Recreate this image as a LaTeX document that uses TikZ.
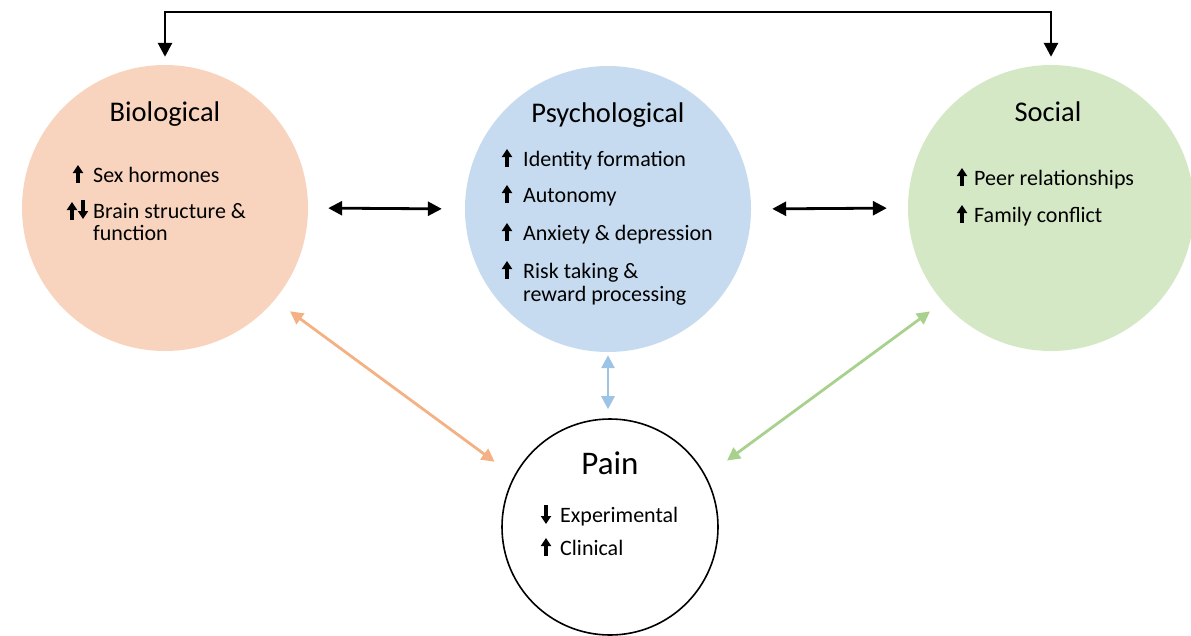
\documentclass[tikz,border=0pt]{standalone}
\usepackage{fontspec}
\setmainfont{Carlito}
\usetikzlibrary{arrows.meta,shapes.geometric}
\definecolor{biofill}{HTML}{F8D4BE}
\definecolor{psyfill}{HTML}{C7DBF0}
\definecolor{socfill}{HTML}{D5E8C6}
\definecolor{oline}{HTML}{F4B183}
\definecolor{bline}{HTML}{9DC3E6}
\definecolor{gline}{HTML}{A9D18E}
\begin{document}
\begin{tikzpicture}[x=1pt,y=-1pt,
  blob/.style={circle, minimum size=286pt, inner sep=0pt},
  ttl/.style={font=\fontsize{28.5}{32}\selectfont, anchor=base, inner sep=0pt},
  itm/.style={font=\fontsize{22}{23}\selectfont, anchor=base west, inner sep=0pt},
  blk/.style={line width=2.8pt, {Triangle[length=14pt,width=14pt]}-{Triangle[length=14pt,width=14pt]}},
  col/.style={line width=2.8pt, {Triangle[length=13pt,width=13pt]}-{Triangle[length=13pt,width=13pt]}},
  sarr/.style={line width=3.2pt, -{Triangle[length=8pt,width=10pt]}},
  uparr/.pic={\draw[sarr] (0,1) -- (0,-17);},
  dnarr/.pic={\draw[sarr] (0,-17) -- (0,2);}
]
\useasboundingbox (0,0) rectangle (1191,635);

% circles
\node[blob, fill=biofill] (bio) at (165,208) {};
\node[blob, fill=psyfill] (psy) at (608,209) {};
\node[blob, fill=socfill] (soc) at (1051,208) {};
\node[ellipse, draw, line width=1.6pt, minimum width=216pt, minimum height=216pt, inner sep=0pt] (pain) at (610,527) {};

% titles
\node[ttl] (biot) at (165,121) {Biological};
\node[ttl] (psyt) at (608,122) {Psychological};
\node[ttl] (soct) at (1048,121) {Social};
\node[ttl, font=\fontsize{33}{36}\selectfont] (paint) at (610,474) {Pain};

% biological items
\node[itm] (b1) at (93,182) {Sex hormones};
\node[itm] (b2) at (93,218) {Brain structure \&};
\node[itm] (b3) at (93,240) {function};
\path (b1.base west) ++(-15,0) pic {uparr};
\path (b2.base west) ++(-21,1) pic {uparr};
\path (b2.base west) ++(-10,-1) pic {dnarr};

% psychological items
\node[itm] (p1) at (523,166) {Identity formation};
\node[itm] (p2) at (523,202) {Autonomy};
\node[itm] (p3) at (523,240) {Anxiety \& depression};
\node[itm] (p4) at (523,278) {Risk taking \&};
\node[itm] (p5) at (523,301) {reward processing};
\path (p1.base west) ++(-16,0) pic {uparr};
\path (p2.base west) ++(-16,0) pic {uparr};
\path (p3.base west) ++(-16,0) pic {uparr};
\path (p4.base west) ++(-16,0) pic {uparr};

% social items
\node[itm] (s1) at (974,185) {Peer relationships};
\node[itm] (s2) at (974,222) {Family conflict};
\path (s1.base west) ++(-12,0) pic {uparr};
\path (s2.base west) ++(-12,0) pic {uparr};

% pain items
\node[itm] (q1) at (560,522) {Experimental};
\node[itm] (q2) at (560,555) {Clinical};
\path (q1.base west) ++(-14,0) pic {dnarr};
\path (q2.base west) ++(-14,0) pic {uparr};

% top connector
\coordinate (tl) at (bio.north |- 0,12);
\coordinate (tr) at (soc.north |- 0,12);
\draw[blk, line join=miter, shorten <=8pt, shorten >=8pt] (bio.north) -- (tl) -- (tr) -- (soc.north);

% horizontal connectors
\draw[blk, shorten <=20pt, shorten >=23pt] (bio.east) -- (psy.west);
\draw[blk, shorten <=21pt, shorten >=21pt] (psy.east) -- (soc.west);

% coloured connectors to pain
\draw[col, oline, shorten <=19pt, shorten >=24pt] (bio.-40) -- (pain.152);
\draw[col, bline, shorten <=3pt, shorten >=9pt] (psy.south) -- (psy.south |- pain.north);
\draw[col, gline, shorten <=16pt, shorten >=26pt] (soc.221) -- (pain.28);
\end{tikzpicture}
\end{document}
